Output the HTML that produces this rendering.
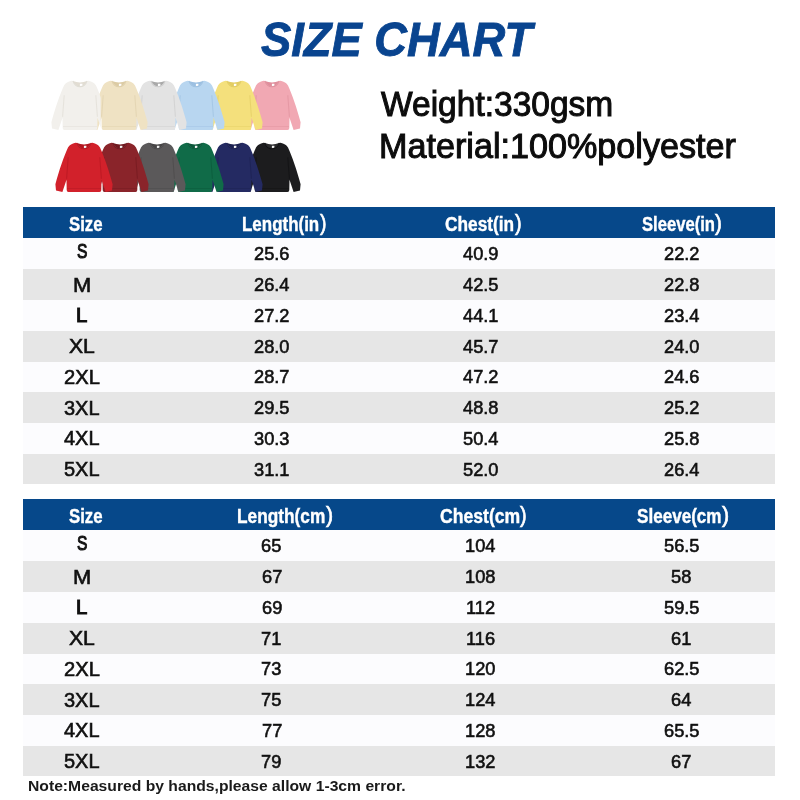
<!DOCTYPE html>
<html><head><meta charset="utf-8"><title>Size Chart</title>
<style>
html,body{margin:0;padding:0;background:#fff;}
body{width:800px;height:800px;position:relative;overflow:hidden;font-family:"Liberation Sans",sans-serif;}
.t{position:absolute;white-space:nowrap;transform-origin:0 0;display:block;}
.hd{position:absolute;left:23px;width:752px;height:31px;background:#06488a;}
.ro,.re{position:absolute;left:23px;width:752px;}
.ro{background:#fcfcfe;}
.re{background:#e6e6e6;}
.s{position:absolute;overflow:visible;filter:blur(.35px);}
</style></head><body>
<div class="hd" style="top:207px"></div>
<div class="ro" style="top:238.30px;height:31.01px"></div>
<div class="re" style="top:269.11px;height:31.01px"></div>
<div class="ro" style="top:299.92px;height:31.01px"></div>
<div class="re" style="top:330.73px;height:31.01px"></div>
<div class="ro" style="top:361.54px;height:31.01px"></div>
<div class="re" style="top:392.35px;height:31.01px"></div>
<div class="ro" style="top:423.16px;height:31.01px"></div>
<div class="re" style="top:453.97px;height:30.51px"></div>
<div class="hd" style="top:499px"></div>
<div class="ro" style="top:530.30px;height:31.01px"></div>
<div class="re" style="top:561.11px;height:31.01px"></div>
<div class="ro" style="top:591.92px;height:31.01px"></div>
<div class="re" style="top:622.73px;height:31.01px"></div>
<div class="ro" style="top:653.54px;height:31.01px"></div>
<div class="re" style="top:684.35px;height:31.01px"></div>
<div class="ro" style="top:715.16px;height:31.01px"></div>
<div class="re" style="top:745.97px;height:30.51px"></div>
<svg class="s" style="left:243.30px;top:80.00px;" width="58" height="51" viewBox="0 0 58 50" preserveAspectRatio="none"><path d="M22.2 1 C26 2.8 32 2.8 35.8 1 C33.4 8.2 24.6 8.2 22.2 1Z" fill="#e08e9c"/><rect x="28.9" y="3.7" width="2.5" height="2.9" fill="#fff"/><path d="M22.2 1 C24.6 8 33.4 8 35.8 1 L37.5 0.8 C41 1.5 43.5 3 45 5.5 C49 14 54 28 57.6 41.5 L57 47.6 L50.6 49 L46.5 37 L46.3 47 Q46.3 49 44.5 49 L13.5 49 Q11.7 49 11.7 47 L11.5 37 L7.4 49 L1 47.6 L0.4 41.5 C4 28 9 14 13 5.5 C14.5 3 17 1.5 20.5 0.8 Z" fill="#f1a8b3"/><path d="M11.6 36 L13.2 15 M46.4 36 L44.8 15" stroke="#d98996" stroke-width="1" fill="none" opacity=".5"/><path d="M22 1 C24.6 8.4 33.4 8.4 36 1" stroke="#d98996" stroke-width="1.1" fill="none" opacity=".7"/><path d="M12 45.6 L46 45.6" stroke="#d98996" stroke-width=".8" fill="none" opacity=".4"/></svg>
<svg class="s" style="left:204.80px;top:80.00px;" width="58" height="51" viewBox="0 0 58 50" preserveAspectRatio="none"><path d="M22.2 1 C26 2.8 32 2.8 35.8 1 C33.4 8.2 24.6 8.2 22.2 1Z" fill="#e3cd62"/><rect x="28.9" y="3.7" width="2.5" height="2.9" fill="#fff"/><path d="M22.2 1 C24.6 8 33.4 8 35.8 1 L37.5 0.8 C41 1.5 43.5 3 45 5.5 C49 14 54 28 57.6 41.5 L57 47.6 L50.6 49 L46.5 37 L46.3 47 Q46.3 49 44.5 49 L13.5 49 Q11.7 49 11.7 47 L11.5 37 L7.4 49 L1 47.6 L0.4 41.5 C4 28 9 14 13 5.5 C14.5 3 17 1.5 20.5 0.8 Z" fill="#f4e07c"/><path d="M11.6 36 L13.2 15 M46.4 36 L44.8 15" stroke="#dcc65a" stroke-width="1" fill="none" opacity=".5"/><path d="M22 1 C24.6 8.4 33.4 8.4 36 1" stroke="#dcc65a" stroke-width="1.1" fill="none" opacity=".7"/><path d="M12 45.6 L46 45.6" stroke="#dcc65a" stroke-width=".8" fill="none" opacity=".4"/></svg>
<svg class="s" style="left:167.20px;top:80.00px;" width="58" height="51" viewBox="0 0 58 50" preserveAspectRatio="none"><path d="M22.2 1 C26 2.8 32 2.8 35.8 1 C33.4 8.2 24.6 8.2 22.2 1Z" fill="#9cc0e2"/><rect x="28.9" y="3.7" width="2.5" height="2.9" fill="#fff"/><path d="M22.2 1 C24.6 8 33.4 8 35.8 1 L37.5 0.8 C41 1.5 43.5 3 45 5.5 C49 14 54 28 57.6 41.5 L57 47.6 L50.6 49 L46.5 37 L46.3 47 Q46.3 49 44.5 49 L13.5 49 Q11.7 49 11.7 47 L11.5 37 L7.4 49 L1 47.6 L0.4 41.5 C4 28 9 14 13 5.5 C14.5 3 17 1.5 20.5 0.8 Z" fill="#b8d6f0"/><path d="M11.6 36 L13.2 15 M46.4 36 L44.8 15" stroke="#94b9dc" stroke-width="1" fill="none" opacity=".5"/><path d="M22 1 C24.6 8.4 33.4 8.4 36 1" stroke="#94b9dc" stroke-width="1.1" fill="none" opacity=".7"/><path d="M12 45.6 L46 45.6" stroke="#94b9dc" stroke-width=".8" fill="none" opacity=".4"/></svg>
<svg class="s" style="left:129.00px;top:80.00px;" width="58" height="51" viewBox="0 0 58 50" preserveAspectRatio="none"><path d="M22.2 1 C26 2.8 32 2.8 35.8 1 C33.4 8.2 24.6 8.2 22.2 1Z" fill="#a9a9a9"/><rect x="28.9" y="3.7" width="2.5" height="2.9" fill="#fff"/><path d="M22.2 1 C24.6 8 33.4 8 35.8 1 L37.5 0.8 C41 1.5 43.5 3 45 5.5 C49 14 54 28 57.6 41.5 L57 47.6 L50.6 49 L46.5 37 L46.3 47 Q46.3 49 44.5 49 L13.5 49 Q11.7 49 11.7 47 L11.5 37 L7.4 49 L1 47.6 L0.4 41.5 C4 28 9 14 13 5.5 C14.5 3 17 1.5 20.5 0.8 Z" fill="#e3e3e3"/><path d="M11.6 36 L13.2 15 M46.4 36 L44.8 15" stroke="#c4c4c4" stroke-width="1" fill="none" opacity=".5"/><path d="M22 1 C24.6 8.4 33.4 8.4 36 1" stroke="#c4c4c4" stroke-width="1.1" fill="none" opacity=".7"/><path d="M12 45.6 L46 45.6" stroke="#c4c4c4" stroke-width=".8" fill="none" opacity=".4"/></svg>
<svg class="s" style="left:89.60px;top:80.00px;" width="58" height="51" viewBox="0 0 58 50" preserveAspectRatio="none"><path d="M22.2 1 C26 2.8 32 2.8 35.8 1 C33.4 8.2 24.6 8.2 22.2 1Z" fill="#dccba4"/><rect x="28.9" y="3.7" width="2.5" height="2.9" fill="#fff"/><path d="M22.2 1 C24.6 8 33.4 8 35.8 1 L37.5 0.8 C41 1.5 43.5 3 45 5.5 C49 14 54 28 57.6 41.5 L57 47.6 L50.6 49 L46.5 37 L46.3 47 Q46.3 49 44.5 49 L13.5 49 Q11.7 49 11.7 47 L11.5 37 L7.4 49 L1 47.6 L0.4 41.5 C4 28 9 14 13 5.5 C14.5 3 17 1.5 20.5 0.8 Z" fill="#efe2c3"/><path d="M11.6 36 L13.2 15 M46.4 36 L44.8 15" stroke="#d9c9a3" stroke-width="1" fill="none" opacity=".5"/><path d="M22 1 C24.6 8.4 33.4 8.4 36 1" stroke="#d9c9a3" stroke-width="1.1" fill="none" opacity=".7"/><path d="M12 45.6 L46 45.6" stroke="#d9c9a3" stroke-width=".8" fill="none" opacity=".4"/></svg>
<svg class="s" style="left:51.20px;top:80.00px;clip-path:inset(-2px 8.5px -2px -2px);" width="58" height="51" viewBox="0 0 58 50" preserveAspectRatio="none"><path d="M22.2 1 C26 2.8 32 2.8 35.8 1 C33.4 8.2 24.6 8.2 22.2 1Z" fill="#e2ddd3"/><rect x="28.9" y="3.7" width="2.5" height="2.9" fill="#fff"/><path d="M22.2 1 C24.6 8 33.4 8 35.8 1 L37.5 0.8 C41 1.5 43.5 3 45 5.5 C49 14 54 28 57.6 41.5 L57 47.6 L50.6 49 L46.5 37 L46.3 47 Q46.3 49 44.5 49 L13.5 49 Q11.7 49 11.7 47 L11.5 37 L7.4 49 L1 47.6 L0.4 41.5 C4 28 9 14 13 5.5 C14.5 3 17 1.5 20.5 0.8 Z" fill="#f2f0ec"/><path d="M11.6 36 L13.2 15 M46.4 36 L44.8 15" stroke="#d9d5cc" stroke-width="1" fill="none" opacity=".5"/><path d="M22 1 C24.6 8.4 33.4 8.4 36 1" stroke="#d9d5cc" stroke-width="1.1" fill="none" opacity=".7"/><path d="M12 45.6 L46 45.6" stroke="#d9d5cc" stroke-width=".8" fill="none" opacity=".4"/></svg>
<svg class="s" style="left:243.30px;top:142.00px;" width="58" height="51" viewBox="0 0 58 50" preserveAspectRatio="none"><path d="M22.2 1 C26 2.8 32 2.8 35.8 1 C33.4 8.2 24.6 8.2 22.2 1Z" fill="#2a2a2c"/><rect x="28.9" y="3.7" width="2.5" height="2.9" fill="#f4f4f4"/><path d="M22.2 1 C24.6 8 33.4 8 35.8 1 L37.5 0.8 C41 1.5 43.5 3 45 5.5 C49 14 54 28 57.6 41.5 L57 47.6 L50.6 49 L46.5 37 L46.3 47 Q46.3 49 44.5 49 L13.5 49 Q11.7 49 11.7 47 L11.5 37 L7.4 49 L1 47.6 L0.4 41.5 C4 28 9 14 13 5.5 C14.5 3 17 1.5 20.5 0.8 Z" fill="#1c1c1e"/><path d="M11.6 36 L13.2 15 M46.4 36 L44.8 15" stroke="#0c0c0d" stroke-width="1" fill="none" opacity=".5"/><path d="M22 1 C24.6 8.4 33.4 8.4 36 1" stroke="#0c0c0d" stroke-width="1.1" fill="none" opacity=".7"/><path d="M12 45.6 L46 45.6" stroke="#0c0c0d" stroke-width=".8" fill="none" opacity=".4"/></svg>
<svg class="s" style="left:205.30px;top:142.00px;" width="58" height="51" viewBox="0 0 58 50" preserveAspectRatio="none"><path d="M22.2 1 C26 2.8 32 2.8 35.8 1 C33.4 8.2 24.6 8.2 22.2 1Z" fill="#1b2050"/><rect x="28.9" y="3.7" width="2.5" height="2.9" fill="#f4f4f4"/><path d="M22.2 1 C24.6 8 33.4 8 35.8 1 L37.5 0.8 C41 1.5 43.5 3 45 5.5 C49 14 54 28 57.6 41.5 L57 47.6 L50.6 49 L46.5 37 L46.3 47 Q46.3 49 44.5 49 L13.5 49 Q11.7 49 11.7 47 L11.5 37 L7.4 49 L1 47.6 L0.4 41.5 C4 28 9 14 13 5.5 C14.5 3 17 1.5 20.5 0.8 Z" fill="#242a62"/><path d="M11.6 36 L13.2 15 M46.4 36 L44.8 15" stroke="#191e4b" stroke-width="1" fill="none" opacity=".5"/><path d="M22 1 C24.6 8.4 33.4 8.4 36 1" stroke="#191e4b" stroke-width="1.1" fill="none" opacity=".7"/><path d="M12 45.6 L46 45.6" stroke="#191e4b" stroke-width=".8" fill="none" opacity=".4"/></svg>
<svg class="s" style="left:166.30px;top:142.00px;" width="58" height="51" viewBox="0 0 58 50" preserveAspectRatio="none"><path d="M22.2 1 C26 2.8 32 2.8 35.8 1 C33.4 8.2 24.6 8.2 22.2 1Z" fill="#0b573a"/><rect x="28.9" y="3.7" width="2.5" height="2.9" fill="#f4f4f4"/><path d="M22.2 1 C24.6 8 33.4 8 35.8 1 L37.5 0.8 C41 1.5 43.5 3 45 5.5 C49 14 54 28 57.6 41.5 L57 47.6 L50.6 49 L46.5 37 L46.3 47 Q46.3 49 44.5 49 L13.5 49 Q11.7 49 11.7 47 L11.5 37 L7.4 49 L1 47.6 L0.4 41.5 C4 28 9 14 13 5.5 C14.5 3 17 1.5 20.5 0.8 Z" fill="#106b48"/><path d="M11.6 36 L13.2 15 M46.4 36 L44.8 15" stroke="#0a5236" stroke-width="1" fill="none" opacity=".5"/><path d="M22 1 C24.6 8.4 33.4 8.4 36 1" stroke="#0a5236" stroke-width="1.1" fill="none" opacity=".7"/><path d="M12 45.6 L46 45.6" stroke="#0a5236" stroke-width=".8" fill="none" opacity=".4"/></svg>
<svg class="s" style="left:128.20px;top:142.00px;" width="58" height="51" viewBox="0 0 58 50" preserveAspectRatio="none"><path d="M22.2 1 C26 2.8 32 2.8 35.8 1 C33.4 8.2 24.6 8.2 22.2 1Z" fill="#474546"/><rect x="28.9" y="3.7" width="2.5" height="2.9" fill="#f4f4f4"/><path d="M22.2 1 C24.6 8 33.4 8 35.8 1 L37.5 0.8 C41 1.5 43.5 3 45 5.5 C49 14 54 28 57.6 41.5 L57 47.6 L50.6 49 L46.5 37 L46.3 47 Q46.3 49 44.5 49 L13.5 49 Q11.7 49 11.7 47 L11.5 37 L7.4 49 L1 47.6 L0.4 41.5 C4 28 9 14 13 5.5 C14.5 3 17 1.5 20.5 0.8 Z" fill="#5b595a"/><path d="M11.6 36 L13.2 15 M46.4 36 L44.8 15" stroke="#454344" stroke-width="1" fill="none" opacity=".5"/><path d="M22 1 C24.6 8.4 33.4 8.4 36 1" stroke="#454344" stroke-width="1.1" fill="none" opacity=".7"/><path d="M12 45.6 L46 45.6" stroke="#454344" stroke-width=".8" fill="none" opacity=".4"/></svg>
<svg class="s" style="left:90.50px;top:142.00px;" width="58" height="51" viewBox="0 0 58 50" preserveAspectRatio="none"><path d="M22.2 1 C26 2.8 32 2.8 35.8 1 C33.4 8.2 24.6 8.2 22.2 1Z" fill="#70191f"/><rect x="28.9" y="3.7" width="2.5" height="2.9" fill="#f4f4f4"/><path d="M22.2 1 C24.6 8 33.4 8 35.8 1 L37.5 0.8 C41 1.5 43.5 3 45 5.5 C49 14 54 28 57.6 41.5 L57 47.6 L50.6 49 L46.5 37 L46.3 47 Q46.3 49 44.5 49 L13.5 49 Q11.7 49 11.7 47 L11.5 37 L7.4 49 L1 47.6 L0.4 41.5 C4 28 9 14 13 5.5 C14.5 3 17 1.5 20.5 0.8 Z" fill="#8a242a"/><path d="M11.6 36 L13.2 15 M46.4 36 L44.8 15" stroke="#6a161c" stroke-width="1" fill="none" opacity=".5"/><path d="M22 1 C24.6 8.4 33.4 8.4 36 1" stroke="#6a161c" stroke-width="1.1" fill="none" opacity=".7"/><path d="M12 45.6 L46 45.6" stroke="#6a161c" stroke-width=".8" fill="none" opacity=".4"/></svg>
<svg class="s" style="left:54.60px;top:142.00px;" width="58" height="51" viewBox="0 0 58 50" preserveAspectRatio="none"><path d="M22.2 1 C26 2.8 32 2.8 35.8 1 C33.4 8.2 24.6 8.2 22.2 1Z" fill="#b3161f"/><rect x="28.9" y="3.7" width="2.5" height="2.9" fill="#f4f4f4"/><path d="M22.2 1 C24.6 8 33.4 8 35.8 1 L37.5 0.8 C41 1.5 43.5 3 45 5.5 C49 14 54 28 57.6 41.5 L57 47.6 L50.6 49 L46.5 37 L46.3 47 Q46.3 49 44.5 49 L13.5 49 Q11.7 49 11.7 47 L11.5 37 L7.4 49 L1 47.6 L0.4 41.5 C4 28 9 14 13 5.5 C14.5 3 17 1.5 20.5 0.8 Z" fill="#d2212b"/><path d="M11.6 36 L13.2 15 M46.4 36 L44.8 15" stroke="#a9141e" stroke-width="1" fill="none" opacity=".5"/><path d="M22 1 C24.6 8.4 33.4 8.4 36 1" stroke="#a9141e" stroke-width="1.1" fill="none" opacity=".7"/><path d="M12 45.6 L46 45.6" stroke="#a9141e" stroke-width=".8" fill="none" opacity=".4"/></svg>
<span class="t" style="left:260.72px;top:14.79px;font-size:48.8px;line-height:48.8px;font-weight:bold;font-style:italic;color:#09448f;transform:scaleX(0.9287);-webkit-text-stroke:0.9px #09448f;">SIZE CHART</span>
<span class="t" style="left:381.38px;top:87.47px;font-size:34.3px;line-height:34.3px;font-weight:normal;font-style:normal;color:#0c0c0c;transform:scaleX(0.9774);-webkit-text-stroke:1.0px #0c0c0c;">Weight:330gsm</span>
<span class="t" style="left:378.76px;top:129.27px;font-size:34.3px;line-height:34.3px;font-weight:normal;font-style:normal;color:#0c0c0c;transform:scaleX(0.9960);-webkit-text-stroke:1.0px #0c0c0c;">Material:100%polyester</span>
<span class="t" style="left:68.98px;top:213.57px;font-size:20px;line-height:20px;font-weight:bold;font-style:normal;color:#fff;transform:scaleX(0.8387);-webkit-text-stroke:0.4px #fff;">Size</span>
<span class="t" style="left:241.83px;top:213.57px;font-size:20px;line-height:20px;font-weight:bold;font-style:normal;color:#fff;transform:scaleX(0.8475);-webkit-text-stroke:0.4px #fff;">Length(in</span>
<span class="t" style="left:319.69px;top:212.48px;font-size:22px;line-height:22px;font-weight:normal;font-style:normal;color:#fff;transform:scaleX(0.8851);-webkit-text-stroke:0.7px #fff;">)</span>
<span class="t" style="left:445.15px;top:213.57px;font-size:20px;line-height:20px;font-weight:bold;font-style:normal;color:#fff;transform:scaleX(0.8641);-webkit-text-stroke:0.4px #fff;">Chest(in</span>
<span class="t" style="left:514.69px;top:212.48px;font-size:22px;line-height:22px;font-weight:normal;font-style:normal;color:#fff;transform:scaleX(0.9021);-webkit-text-stroke:0.7px #fff;">)</span>
<span class="t" style="left:642.18px;top:213.57px;font-size:20px;line-height:20px;font-weight:bold;font-style:normal;color:#fff;transform:scaleX(0.8314);-webkit-text-stroke:0.4px #fff;">Sleeve(in</span>
<span class="t" style="left:715.38px;top:212.48px;font-size:22px;line-height:22px;font-weight:normal;font-style:normal;color:#fff;transform:scaleX(0.9362);-webkit-text-stroke:0.7px #fff;">)</span>
<span class="t" style="left:76.60px;top:242.49px;font-size:19.5px;line-height:19.5px;font-weight:normal;font-style:normal;color:#111;transform:scaleX(0.8000);-webkit-text-stroke:1.0px #111;">S</span>
<span class="t" style="left:253.94px;top:245.16px;font-size:18.6px;line-height:18.6px;font-weight:normal;font-style:normal;color:#111;transform:scaleX(0.9800);-webkit-text-stroke:0.6px #111;">25.6</span>
<span class="t" style="left:463.28px;top:245.16px;font-size:18.6px;line-height:18.6px;font-weight:normal;font-style:normal;color:#111;transform:scaleX(0.9800);-webkit-text-stroke:0.6px #111;">40.9</span>
<span class="t" style="left:663.90px;top:245.16px;font-size:18.6px;line-height:18.6px;font-weight:normal;font-style:normal;color:#111;transform:scaleX(0.9800);-webkit-text-stroke:0.6px #111;">22.2</span>
<span class="t" style="left:72.58px;top:275.50px;font-size:19.5px;line-height:19.5px;font-weight:normal;font-style:normal;color:#111;transform:scaleX(1.1231);-webkit-text-stroke:0.6px #111;">M</span>
<span class="t" style="left:253.75px;top:275.97px;font-size:18.6px;line-height:18.6px;font-weight:normal;font-style:normal;color:#111;transform:scaleX(0.9800);-webkit-text-stroke:0.6px #111;">26.4</span>
<span class="t" style="left:463.22px;top:275.97px;font-size:18.6px;line-height:18.6px;font-weight:normal;font-style:normal;color:#111;transform:scaleX(0.9800);-webkit-text-stroke:0.6px #111;">42.5</span>
<span class="t" style="left:663.84px;top:275.97px;font-size:18.6px;line-height:18.6px;font-weight:normal;font-style:normal;color:#111;transform:scaleX(0.9800);-webkit-text-stroke:0.6px #111;">22.8</span>
<span class="t" style="left:76.30px;top:306.41px;font-size:19.5px;line-height:19.5px;font-weight:normal;font-style:normal;color:#111;transform:scaleX(1.0435);-webkit-text-stroke:1.0px #111;">L</span>
<span class="t" style="left:254.00px;top:306.78px;font-size:18.6px;line-height:18.6px;font-weight:normal;font-style:normal;color:#111;transform:scaleX(0.9800);-webkit-text-stroke:0.6px #111;">27.2</span>
<span class="t" style="left:463.28px;top:306.78px;font-size:18.6px;line-height:18.6px;font-weight:normal;font-style:normal;color:#111;transform:scaleX(0.9800);-webkit-text-stroke:0.6px #111;">44.1</span>
<span class="t" style="left:663.65px;top:306.78px;font-size:18.6px;line-height:18.6px;font-weight:normal;font-style:normal;color:#111;transform:scaleX(0.9800);-webkit-text-stroke:0.6px #111;">23.4</span>
<span class="t" style="left:68.66px;top:336.82px;font-size:19.5px;line-height:19.5px;font-weight:normal;font-style:normal;color:#111;transform:scaleX(1.0857);-webkit-text-stroke:0.6px #111;">XL</span>
<span class="t" style="left:253.88px;top:337.59px;font-size:18.6px;line-height:18.6px;font-weight:normal;font-style:normal;color:#111;transform:scaleX(0.9800);-webkit-text-stroke:0.6px #111;">28.0</span>
<span class="t" style="left:463.34px;top:337.59px;font-size:18.6px;line-height:18.6px;font-weight:normal;font-style:normal;color:#111;transform:scaleX(0.9800);-webkit-text-stroke:0.6px #111;">45.7</span>
<span class="t" style="left:663.78px;top:337.59px;font-size:18.6px;line-height:18.6px;font-weight:normal;font-style:normal;color:#111;transform:scaleX(0.9800);-webkit-text-stroke:0.6px #111;">24.0</span>
<span class="t" style="left:63.57px;top:368.23px;font-size:19.5px;line-height:19.5px;font-weight:normal;font-style:normal;color:#111;transform:scaleX(1.0325);-webkit-text-stroke:0.6px #111;">2XL</span>
<span class="t" style="left:254.00px;top:368.40px;font-size:18.6px;line-height:18.6px;font-weight:normal;font-style:normal;color:#111;transform:scaleX(0.9800);-webkit-text-stroke:0.6px #111;">28.7</span>
<span class="t" style="left:463.34px;top:368.40px;font-size:18.6px;line-height:18.6px;font-weight:normal;font-style:normal;color:#111;transform:scaleX(0.9800);-webkit-text-stroke:0.6px #111;">47.2</span>
<span class="t" style="left:663.84px;top:368.40px;font-size:18.6px;line-height:18.6px;font-weight:normal;font-style:normal;color:#111;transform:scaleX(0.9800);-webkit-text-stroke:0.6px #111;">24.6</span>
<span class="t" style="left:63.83px;top:398.64px;font-size:19.5px;line-height:19.5px;font-weight:normal;font-style:normal;color:#111;transform:scaleX(1.0247);-webkit-text-stroke:0.6px #111;">3XL</span>
<span class="t" style="left:253.88px;top:399.21px;font-size:18.6px;line-height:18.6px;font-weight:normal;font-style:normal;color:#111;transform:scaleX(0.9800);-webkit-text-stroke:0.6px #111;">29.5</span>
<span class="t" style="left:463.28px;top:399.21px;font-size:18.6px;line-height:18.6px;font-weight:normal;font-style:normal;color:#111;transform:scaleX(0.9800);-webkit-text-stroke:0.6px #111;">48.8</span>
<span class="t" style="left:663.90px;top:399.21px;font-size:18.6px;line-height:18.6px;font-weight:normal;font-style:normal;color:#111;transform:scaleX(0.9800);-webkit-text-stroke:0.6px #111;">25.2</span>
<span class="t" style="left:63.92px;top:429.25px;font-size:19.5px;line-height:19.5px;font-weight:normal;font-style:normal;color:#111;transform:scaleX(1.0222);-webkit-text-stroke:0.6px #111;">4XL</span>
<span class="t" style="left:254.00px;top:430.02px;font-size:18.6px;line-height:18.6px;font-weight:normal;font-style:normal;color:#111;transform:scaleX(0.9800);-webkit-text-stroke:0.6px #111;">30.3</span>
<span class="t" style="left:462.92px;top:430.02px;font-size:18.6px;line-height:18.6px;font-weight:normal;font-style:normal;color:#111;transform:scaleX(0.9800);-webkit-text-stroke:0.6px #111;">50.4</span>
<span class="t" style="left:663.84px;top:430.02px;font-size:18.6px;line-height:18.6px;font-weight:normal;font-style:normal;color:#111;transform:scaleX(0.9800);-webkit-text-stroke:0.6px #111;">25.8</span>
<span class="t" style="left:63.83px;top:459.76px;font-size:19.5px;line-height:19.5px;font-weight:normal;font-style:normal;color:#111;transform:scaleX(1.0247);-webkit-text-stroke:0.6px #111;">5XL</span>
<span class="t" style="left:254.00px;top:460.83px;font-size:18.6px;line-height:18.6px;font-weight:normal;font-style:normal;color:#111;transform:scaleX(0.9800);-webkit-text-stroke:0.6px #111;">31.1</span>
<span class="t" style="left:463.04px;top:460.83px;font-size:18.6px;line-height:18.6px;font-weight:normal;font-style:normal;color:#111;transform:scaleX(0.9800);-webkit-text-stroke:0.6px #111;">52.0</span>
<span class="t" style="left:663.65px;top:460.83px;font-size:18.6px;line-height:18.6px;font-weight:normal;font-style:normal;color:#111;transform:scaleX(0.9800);-webkit-text-stroke:0.6px #111;">26.4</span>
<span class="t" style="left:68.98px;top:505.57px;font-size:20px;line-height:20px;font-weight:bold;font-style:normal;color:#fff;transform:scaleX(0.8387);-webkit-text-stroke:0.4px #fff;">Size</span>
<span class="t" style="left:237.11px;top:505.57px;font-size:20px;line-height:20px;font-weight:bold;font-style:normal;color:#fff;transform:scaleX(0.8633);-webkit-text-stroke:0.4px #fff;">Length(cm</span>
<span class="t" style="left:325.68px;top:504.48px;font-size:22px;line-height:22px;font-weight:normal;font-style:normal;color:#fff;transform:scaleX(0.9702);-webkit-text-stroke:0.7px #fff;">)</span>
<span class="t" style="left:439.64px;top:505.57px;font-size:20px;line-height:20px;font-weight:bold;font-style:normal;color:#fff;transform:scaleX(0.8797);-webkit-text-stroke:0.4px #fff;">Chest(cm</span>
<span class="t" style="left:520.19px;top:504.48px;font-size:22px;line-height:22px;font-weight:normal;font-style:normal;color:#fff;transform:scaleX(0.9021);-webkit-text-stroke:0.7px #fff;">)</span>
<span class="t" style="left:636.67px;top:505.57px;font-size:20px;line-height:20px;font-weight:bold;font-style:normal;color:#fff;transform:scaleX(0.8546);-webkit-text-stroke:0.4px #fff;">Sleeve(cm</span>
<span class="t" style="left:721.58px;top:504.48px;font-size:22px;line-height:22px;font-weight:normal;font-style:normal;color:#fff;transform:scaleX(0.9702);-webkit-text-stroke:0.7px #fff;">)</span>
<span class="t" style="left:76.60px;top:534.49px;font-size:19.5px;line-height:19.5px;font-weight:normal;font-style:normal;color:#111;transform:scaleX(0.8000);-webkit-text-stroke:1.0px #111;">S</span>
<span class="t" style="left:261.47px;top:537.16px;font-size:18.6px;line-height:18.6px;font-weight:normal;font-style:normal;color:#111;transform:scaleX(0.9800);-webkit-text-stroke:0.6px #111;">65</span>
<span class="t" style="left:465.12px;top:537.16px;font-size:18.6px;line-height:18.6px;font-weight:normal;font-style:normal;color:#111;transform:scaleX(0.9800);-webkit-text-stroke:0.6px #111;">104</span>
<span class="t" style="left:663.84px;top:537.16px;font-size:18.6px;line-height:18.6px;font-weight:normal;font-style:normal;color:#111;transform:scaleX(0.9800);-webkit-text-stroke:0.6px #111;">56.5</span>
<span class="t" style="left:72.58px;top:567.50px;font-size:19.5px;line-height:19.5px;font-weight:normal;font-style:normal;color:#111;transform:scaleX(1.1231);-webkit-text-stroke:0.6px #111;">M</span>
<span class="t" style="left:261.59px;top:567.97px;font-size:18.6px;line-height:18.6px;font-weight:normal;font-style:normal;color:#111;transform:scaleX(0.9800);-webkit-text-stroke:0.6px #111;">67</span>
<span class="t" style="left:465.30px;top:567.97px;font-size:18.6px;line-height:18.6px;font-weight:normal;font-style:normal;color:#111;transform:scaleX(0.9800);-webkit-text-stroke:0.6px #111;">108</span>
<span class="t" style="left:671.49px;top:567.97px;font-size:18.6px;line-height:18.6px;font-weight:normal;font-style:normal;color:#111;transform:scaleX(0.9800);-webkit-text-stroke:0.6px #111;">58</span>
<span class="t" style="left:76.30px;top:598.41px;font-size:19.5px;line-height:19.5px;font-weight:normal;font-style:normal;color:#111;transform:scaleX(1.0435);-webkit-text-stroke:1.0px #111;">L</span>
<span class="t" style="left:261.53px;top:598.78px;font-size:18.6px;line-height:18.6px;font-weight:normal;font-style:normal;color:#111;transform:scaleX(0.9800);-webkit-text-stroke:0.6px #111;">69</span>
<span class="t" style="left:466.04px;top:598.78px;font-size:18.6px;line-height:18.6px;font-weight:normal;font-style:normal;color:#111;transform:scaleX(0.9800);-webkit-text-stroke:0.6px #111;">112</span>
<span class="t" style="left:663.84px;top:598.78px;font-size:18.6px;line-height:18.6px;font-weight:normal;font-style:normal;color:#111;transform:scaleX(0.9800);-webkit-text-stroke:0.6px #111;">59.5</span>
<span class="t" style="left:68.66px;top:628.82px;font-size:19.5px;line-height:19.5px;font-weight:normal;font-style:normal;color:#111;transform:scaleX(1.0857);-webkit-text-stroke:0.6px #111;">XL</span>
<span class="t" style="left:261.47px;top:629.59px;font-size:18.6px;line-height:18.6px;font-weight:normal;font-style:normal;color:#111;transform:scaleX(0.9800);-webkit-text-stroke:0.6px #111;">71</span>
<span class="t" style="left:465.98px;top:629.59px;font-size:18.6px;line-height:18.6px;font-weight:normal;font-style:normal;color:#111;transform:scaleX(0.9800);-webkit-text-stroke:0.6px #111;">116</span>
<span class="t" style="left:671.43px;top:629.59px;font-size:18.6px;line-height:18.6px;font-weight:normal;font-style:normal;color:#111;transform:scaleX(0.9800);-webkit-text-stroke:0.6px #111;">61</span>
<span class="t" style="left:63.57px;top:660.23px;font-size:19.5px;line-height:19.5px;font-weight:normal;font-style:normal;color:#111;transform:scaleX(1.0325);-webkit-text-stroke:0.6px #111;">2XL</span>
<span class="t" style="left:261.47px;top:660.40px;font-size:18.6px;line-height:18.6px;font-weight:normal;font-style:normal;color:#111;transform:scaleX(0.9800);-webkit-text-stroke:0.6px #111;">73</span>
<span class="t" style="left:465.24px;top:660.40px;font-size:18.6px;line-height:18.6px;font-weight:normal;font-style:normal;color:#111;transform:scaleX(0.9800);-webkit-text-stroke:0.6px #111;">120</span>
<span class="t" style="left:663.78px;top:660.40px;font-size:18.6px;line-height:18.6px;font-weight:normal;font-style:normal;color:#111;transform:scaleX(0.9800);-webkit-text-stroke:0.6px #111;">62.5</span>
<span class="t" style="left:63.83px;top:690.64px;font-size:19.5px;line-height:19.5px;font-weight:normal;font-style:normal;color:#111;transform:scaleX(1.0247);-webkit-text-stroke:0.6px #111;">3XL</span>
<span class="t" style="left:261.41px;top:691.21px;font-size:18.6px;line-height:18.6px;font-weight:normal;font-style:normal;color:#111;transform:scaleX(0.9800);-webkit-text-stroke:0.6px #111;">75</span>
<span class="t" style="left:465.12px;top:691.21px;font-size:18.6px;line-height:18.6px;font-weight:normal;font-style:normal;color:#111;transform:scaleX(0.9800);-webkit-text-stroke:0.6px #111;">124</span>
<span class="t" style="left:671.25px;top:691.21px;font-size:18.6px;line-height:18.6px;font-weight:normal;font-style:normal;color:#111;transform:scaleX(0.9800);-webkit-text-stroke:0.6px #111;">64</span>
<span class="t" style="left:63.92px;top:721.25px;font-size:19.5px;line-height:19.5px;font-weight:normal;font-style:normal;color:#111;transform:scaleX(1.0222);-webkit-text-stroke:0.6px #111;">4XL</span>
<span class="t" style="left:261.53px;top:722.02px;font-size:18.6px;line-height:18.6px;font-weight:normal;font-style:normal;color:#111;transform:scaleX(0.9800);-webkit-text-stroke:0.6px #111;">77</span>
<span class="t" style="left:465.30px;top:722.02px;font-size:18.6px;line-height:18.6px;font-weight:normal;font-style:normal;color:#111;transform:scaleX(0.9800);-webkit-text-stroke:0.6px #111;">128</span>
<span class="t" style="left:663.78px;top:722.02px;font-size:18.6px;line-height:18.6px;font-weight:normal;font-style:normal;color:#111;transform:scaleX(0.9800);-webkit-text-stroke:0.6px #111;">65.5</span>
<span class="t" style="left:63.83px;top:751.76px;font-size:19.5px;line-height:19.5px;font-weight:normal;font-style:normal;color:#111;transform:scaleX(1.0247);-webkit-text-stroke:0.6px #111;">5XL</span>
<span class="t" style="left:261.47px;top:752.83px;font-size:18.6px;line-height:18.6px;font-weight:normal;font-style:normal;color:#111;transform:scaleX(0.9800);-webkit-text-stroke:0.6px #111;">79</span>
<span class="t" style="left:465.37px;top:752.83px;font-size:18.6px;line-height:18.6px;font-weight:normal;font-style:normal;color:#111;transform:scaleX(0.9800);-webkit-text-stroke:0.6px #111;">132</span>
<span class="t" style="left:671.49px;top:752.83px;font-size:18.6px;line-height:18.6px;font-weight:normal;font-style:normal;color:#111;transform:scaleX(0.9800);-webkit-text-stroke:0.6px #111;">67</span>
<span class="t" style="left:27.99px;top:778.08px;font-size:15.5px;line-height:15.5px;font-weight:bold;font-style:normal;color:#1a1a1a;transform:scaleX(1.0121);">Note:Measured by hands,please allow 1-3cm error.</span>
</body></html>
